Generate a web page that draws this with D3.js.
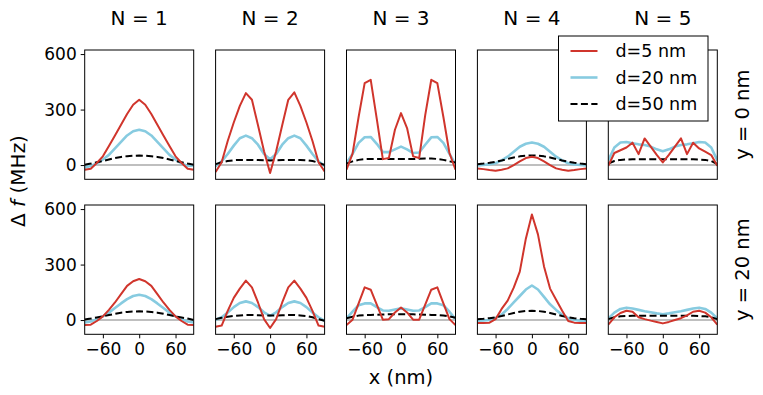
<!DOCTYPE html>
<html>
<head>
<meta charset="utf-8">
<script src="https://cdn.jsdelivr.net/npm/d3@7"></script>
<style>
  body { margin: 0; background: #fff; }
  text { font-family: "DejaVu Sans", sans-serif; fill: #000; }
</style>
</head>
<body>
<div id="chart"></div>
<script>
// x positions (nm) shared by every curve
const xs = [-90, -80, -70, -60, -50, -40, -30, -20, -10, 0, 10, 20, 30, 40, 50, 60, 70, 80, 90]
const titles = ['N = 1', 'N = 2', 'N = 3', 'N = 4', 'N = 5']
const rowLabels = ['y = 0 nm', 'y = 20 nm']
const xTicks = [-60, 0, 60]
const yTicks = [0, 300, 600]

// y = 0 nm row, one array per N
const d5_y0 = [
  [-25, -20, 11, 47, 103, 160, 218, 276, 326, 353, 326, 276, 218, 160, 103, 47, 11, -20, -25],
  [-38, 15, 130, 230, 320, 389, 353, 215, 75, -43, 75, 215, 353, 393, 320, 230, 130, 15, -34],
  [-25, 62, 260, 443, 461, 250, 32, 38, 191, 281, 200, 47, 38, 270, 461, 443, 260, 65, -25],
  [-18, -22, -27, -31, -25, -18, 0, 20, 38, 45, 38, 20, 0, -18, -25, -31, -27, -22, -18],
  [-4, 65, 80, 95, 121, 59, 144, 100, 55, 14, 55, 100, 144, 59, 121, 90, 72, 54, -4]
]
const d20_y0 = [
  [-13, -5, 8, 30, 55, 90, 125, 160, 183, 191, 183, 160, 125, 90, 55, 30, 8, -5, -2],
  [-7, 20, 60, 105, 145, 159, 145, 110, 60, 32, 60, 110, 145, 159, 145, 105, 60, 20, -5],
  [10, 60, 120, 150, 152, 115, 70, 70, 85, 100, 85, 65, 68, 110, 150, 152, 120, 60, 5],
  [-2, 0, 5, 10, 25, 45, 72, 99, 115, 122, 115, 99, 72, 45, 25, 10, 3, 0, -2],
  [25, 95, 122, 125, 118, 112, 108, 100, 85, 75, 85, 100, 108, 112, 118, 125, 122, 95, 25]
]
const d50_y0 = [
  [2, 8, 15, 22, 30, 38, 44, 48, 50, 51, 50, 48, 44, 38, 30, 22, 15, 8, 2],
  [5, 15, 22, 26, 28, 28, 28, 27, 26, 25, 26, 27, 28, 28, 28, 26, 22, 12, 0],
  [8, 20, 28, 32, 33, 33, 33, 33, 33, 33, 33, 33, 34, 35, 35, 33, 28, 20, 14],
  [5, 8, 12, 18, 25, 33, 41, 47, 51, 52, 51, 47, 41, 33, 25, 18, 12, 8, 5],
  [8, 22, 28, 30, 31, 31, 31, 31, 31, 31, 31, 31, 31, 31, 31, 30, 28, 22, 5]
]

// y = 20 nm row
const d5_y20 = [
  [-27, -25, -5, 20, 55, 95, 140, 185, 210, 222, 210, 185, 140, 95, 55, 20, -5, -25, -27],
  [-36, -30, 50, 120, 170, 213, 177, 95, 5, -43, 5, 95, 177, 213, 170, 120, 50, -30, -36],
  [-27, 2, 90, 177, 164, 83, 2, 5, 41, 68, 41, 2, 2, 83, 164, 177, 90, 5, -27],
  [-16, -16, -14, 5, 60, 105, 175, 262, 440, 571, 463, 290, 170, 110, 50, -5, -14, -16, -16],
  [-25, 15, 38, 50, 45, 15, 5, -3, -10, -18, -10, 0, 10, 25, 45, 50, 40, 15, -25]
]
const d20_y20 = [
  [-13, -8, 5, 20, 40, 65, 90, 113, 130, 137, 130, 113, 90, 65, 40, 20, 5, -8, -13],
  [2, 15, 40, 70, 92, 101, 92, 70, 42, 23, 42, 70, 92, 101, 92, 70, 40, 15, -4],
  [9, 45, 80, 90, 90, 70, 52, 50, 57, 63, 57, 50, 52, 70, 90, 90, 80, 45, 5],
  [-4, -2, 0, 10, 30, 60, 95, 130, 165, 187, 165, 125, 85, 55, 28, 10, 0, -4, -4],
  [9, 40, 60, 67, 62, 55, 48, 42, 36, 31, 36, 42, 48, 55, 62, 67, 60, 40, 9]
]
const d50_y20 = [
  [3, 8, 14, 20, 27, 34, 40, 44, 46, 47, 46, 44, 40, 34, 27, 20, 14, 8, 0],
  [5, 12, 18, 22, 25, 27, 27, 26, 25, 25, 25, 26, 27, 27, 25, 22, 15, 5, -4],
  [10, 18, 24, 27, 28, 29, 30, 31, 32, 32, 32, 31, 30, 29, 28, 27, 25, 20, 12],
  [5, 7, 10, 15, 22, 30, 38, 45, 49, 50, 49, 45, 38, 30, 22, 15, 10, 7, 5],
  [5, 15, 20, 22, 23, 23, 23, 23, 23, 23, 23, 23, 23, 23, 23, 22, 20, 15, 5]
]

const series = [
  { name: 'd=5 nm', color: '#d0352c', width: 2, dash: null, rows: [d5_y0, d5_y20] },
  { name: 'd=20 nm', color: '#87cbe0', width: 2.6, dash: null, rows: [d20_y0, d20_y20] },
  { name: 'd=50 nm', color: '#000', width: 2, dash: '7,3.4', rows: [d50_y0, d50_y20] }
]
const drawOrder = [1, 2, 0]

const width = 763
const height = 395
const panelW = 109
const panelH = 129.3
const left0 = 84.7
const stepX = 130.9
const tops = [50, 205]

const svg = d3.select('#chart').append('svg')
  .attr('width', width)
  .attr('height', height)

const x = d3.scaleLinear().domain([-90, 90]).range([0, panelW])
const y = d3.scaleLinear().domain([-77, 622]).range([panelH, 0])
const line = d3.line().x((d, i) => x(xs[i])).y(d => y(d))

rowLabels.forEach((rowLabel, r) => {
  titles.forEach((title, c) => {
    const g = svg.append('g')
      .attr('transform', `translate(${left0 + c * stepX},${tops[r]})`)

    const clipId = `clip-${r}-${c}`
    g.append('clipPath').attr('id', clipId)
      .append('rect').attr('width', panelW).attr('height', panelH)

    const plot = g.append('g').attr('clip-path', `url(#${clipId})`)
    plot.append('line')
      .attr('x1', 0).attr('x2', panelW)
      .attr('y1', y(0)).attr('y2', y(0))
      .attr('stroke', '#aaa').attr('stroke-width', 1.6)

    drawOrder.forEach(k => {
      const s = series[k]
      plot.append('path')
        .datum(s.rows[r][c])
        .attr('d', line)
        .attr('fill', 'none')
        .attr('stroke', s.color)
        .attr('stroke-width', s.width)
        .attr('stroke-dasharray', s.dash)
        .attr('stroke-linejoin', 'round')
    })

    g.append('rect')
      .attr('width', panelW).attr('height', panelH)
      .attr('fill', 'none').attr('stroke', '#000').attr('stroke-width', 1)

    if (r === 1) {
      const ax = g.append('g')
        .attr('transform', `translate(0,${panelH})`)
        .call(d3.axisBottom(x).tickValues(xTicks).tickSize(4).tickPadding(5)
          .tickFormat(d => d < 0 ? '\u2212' + Math.abs(d) : d))
      ax.select('.domain').remove()
      ax.selectAll('text').style('font-size', '17px')
    }
    if (c === 0) {
      const ay = g.append('g')
        .call(d3.axisLeft(y).tickValues(yTicks).tickSize(4).tickPadding(4))
      ay.select('.domain').remove()
      ay.selectAll('text').style('font-size', '17px')
    }
    if (r === 0) {
      svg.append('text')
        .attr('x', left0 + c * stepX + panelW / 2)
        .attr('y', 25)
        .attr('text-anchor', 'middle')
        .style('font-size', '20px')
        .text(title)
    }
  })

  svg.append('text')
    .attr('transform', `translate(742,${tops[r] + panelH / 2}) rotate(-90)`)
    .attr('text-anchor', 'middle')
    .attr('dominant-baseline', 'central')
    .style('font-size', '19.5px')
    .text(rowLabel)
})

// shared axis labels
svg.append('text')
  .attr('x', left0 + 2 * stepX + panelW / 2)
  .attr('y', 384)
  .attr('text-anchor', 'middle')
  .style('font-size', '19.5px')
  .text('x (nm)')

const ylab = svg.append('text')
  .attr('transform', 'translate(18,181) rotate(-90)')
  .attr('text-anchor', 'middle')
  .attr('dominant-baseline', 'central')
  .style('font-size', '20px')
ylab.append('tspan').text('\u0394 ')
ylab.append('tspan').style('font-style', 'italic').text('f')
ylab.append('tspan').text(' (MHz)')

// legend
const lg = svg.append('g').attr('transform', 'translate(558.5,36)')
lg.append('rect')
  .attr('width', 149.5).attr('height', 85)
  .attr('fill', '#fff').attr('stroke', '#000').attr('stroke-width', 1)
series.forEach((s, i) => {
  const cy = 15 + i * 26.5
  lg.append('line')
    .attr('x1', 12).attr('x2', 39)
    .attr('y1', cy).attr('y2', cy)
    .attr('stroke', s.color)
    .attr('stroke-width', s.width)
    .attr('stroke-dasharray', s.dash)
  lg.append('text')
    .attr('x', 57).attr('y', cy)
    .attr('dominant-baseline', 'central')
    .style('font-size', '17.5px')
    .text(s.name)
})
</script>
</body>
</html>
